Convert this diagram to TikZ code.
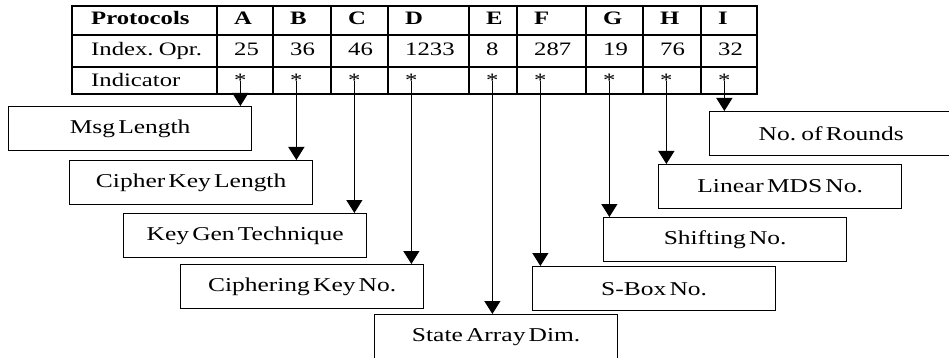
\documentclass[tikz,border=0pt]{standalone}
\usepackage{fontspec}
\setmainfont{Liberation Serif}[FakeStretch=1.3, WordSpace=0.5]
\usetikzlibrary{arrows.meta}

\begin{document}
\begin{tikzpicture}[
  x=1pt, y=-1pt,
  font=\fontsize{19}{21}\selectfont,
  grid/.style ={draw=black, line width=1.2pt},
  cell/.style ={anchor=base west, inner sep=0pt},
  box/.style  ={draw=black, line width=1.3pt, anchor=north west,
                font=\fontsize{19.6}{22}\selectfont,
                minimum width=243pt, minimum height=44pt, inner sep=0pt},
  ar/.style   ={-{Triangle[length=13pt,width=16pt]}, draw=black, line width=1.2pt},
]
\useasboundingbox (0,0) rectangle (949,358);

% ---------------------------------------------------------------- table
\draw[grid] (72,6) rectangle (757,94);
\foreach \y in {35,67} \draw[grid] (72,\y) -- (757,\y);
\foreach \x in {217,273,331,388,469,517,586,643,701} \draw[grid] (\x,6) -- (\x,94);

\node[cell] (hprot) at (91,25) {\textbf{Protocols}};
\node[cell] (hidx)  at (91,56) {Index. Opr.};
\node[cell] (hind)  at (91,87) {Indicator};

\foreach \col/\x/\val in {A/217/25, B/273/36, C/331/46, D/388/1233, E/469/8,
                          F/517/287, G/586/19, H/643/76, I/701/32} {
  \node[cell] (p\col) at (\x+17,25) {\textbf{\col}};
  \node[cell] (v\col) at (\x+17,56) {\val};
  \node[cell] (s\col) at (\x+17,87) {*};
}

% ---------------------------------------------------------------- parameter boxes
\node[box] (msg)   at (8,106)   {Msg Length};
\node[box] (ckl)   at (69,160)  {Cipher Key Length};
\node[box] (kgt)   at (123,213) {Key Gen Technique};
\node[box] (ckn)   at (180,264) {Ciphering Key No.};
\node[box] (sad)   at (374,314) {State Array Dim.};
\node[box] (sbox)  at (532,266) {S-Box No.};
\node[box] (shift) at (603,217) {Shifting No.};
\node[box] (mds)   at (658,164) {Linear MDS No.};
\node[box] (rnd)   at (709,111) {No. of Rounds};

% ---------------------------------------------------------------- arrows
\draw[ar] (sA.center) -- (msg.north   -| sA.center);
\draw[ar] (sB.center) -- (ckl.north   -| sB.center);
\draw[ar] (sC.center) -- (kgt.north   -| sC.center);
\draw[ar] (sD.center) -- (ckn.north   -| sD.center);
\draw[ar] (sE.center) -- (sad.north   -| sE.center);
\draw[ar] (sF.center) -- (sbox.north  -| sF.center);
\draw[ar] (sG.center) -- (shift.north -| sG.center);
\draw[ar] (sH.center) -- (mds.north   -| sH.center);
\draw[ar] (sI.center) -- (rnd.north   -| sI.center);

\end{tikzpicture}
\end{document}
